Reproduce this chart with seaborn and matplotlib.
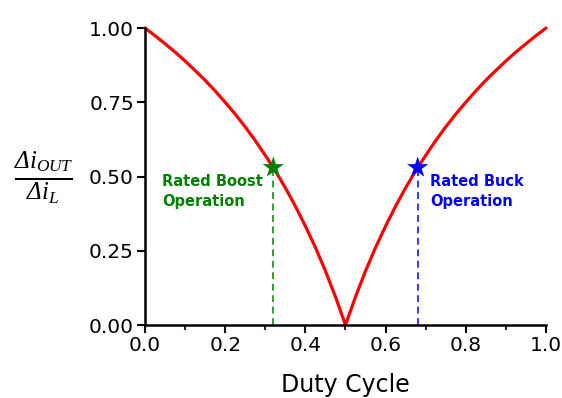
import matplotlib
matplotlib.use("Agg")
import matplotlib.pyplot as plt
import seaborn as sns
import pandas as pd
from matplotlib.ticker import MultipleLocator

# Data
duty = [0.0, 0.025, 0.05, 0.075, 0.1, 0.125, 0.15, 0.175, 0.2, 0.225, 0.25, 0.275,
        0.3, 0.325, 0.35, 0.375, 0.4, 0.425, 0.45, 0.475, 0.5,
        0.525, 0.55, 0.575, 0.6, 0.625, 0.65, 0.675, 0.7, 0.725, 0.75, 0.775,
        0.8, 0.825, 0.85, 0.875, 0.9, 0.925, 0.95, 0.975, 1.0]
ripple = [1.0, 0.974, 0.947, 0.919, 0.889, 0.857, 0.824, 0.788, 0.75, 0.710, 0.667, 0.621,
          0.571, 0.519, 0.462, 0.4, 0.333, 0.261, 0.182, 0.095, 0.0,
          0.095, 0.182, 0.261, 0.333, 0.4, 0.462, 0.519, 0.571, 0.621, 0.667, 0.710,
          0.75, 0.788, 0.824, 0.857, 0.889, 0.919, 0.947, 0.974, 1.0]
rated_duty = [0.32, 0.68]
rated_ripple = [0.53, 0.53]
rated_labels = ["Rated Boost\nOperation", "Rated Buck\nOperation"]
rated_colors = ["#008000", "#0000FF"]
x_ticks = [0.0, 0.2, 0.4, 0.6, 0.8, 1.0]
y_ticks = [0.0, 0.25, 0.5, 0.75, 1.0]

sns.set_style("ticks")
plt.rcParams["font.family"] = ["DejaVu Sans"]
plt.rcParams["mathtext.fontset"] = "custom"
plt.rcParams["mathtext.it"] = "Liberation Serif:italic"
plt.rcParams["mathtext.rm"] = "Liberation Serif:italic"

fig = plt.figure(figsize=(5.62, 3.98), dpi=100)
ax = fig.add_axes([0.258, 0.1834, 0.7135, 0.7462])

df = pd.DataFrame({"duty": duty, "ripple": ripple})
sns.lineplot(data=df, x="duty", y="ripple", color="#FF0000", linewidth=2.3, ax=ax)

for d, r, lab, c, dx in zip(rated_duty, rated_ripple, rated_labels, rated_colors, [-0.277, 0.031]):
    ax.plot([d, d], [0, r], linestyle=(0, (4.5, 3)), color=c, linewidth=1.1, zorder=2)
    ax.text(d + dx, r - 0.02, lab, color=c, fontsize=10.5, fontweight="bold",
            va="top", ha="left", linespacing=1.45)

sns.scatterplot(x=rated_duty, y=rated_ripple, hue=rated_labels, palette=rated_colors,
                marker="*", s=260, edgecolor="none", legend=False, ax=ax, zorder=5)

ax.set_xlim(0, 1)
ax.set_ylim(0, 1)
ax.set_xticks(x_ticks)
ax.set_xticklabels([f"{v:.1f}" for v in x_ticks])
ax.set_yticks(y_ticks)
ax.set_yticklabels([f"{v:.2f}" for v in y_ticks])
ax.xaxis.set_minor_locator(MultipleLocator(0.1))
ax.tick_params(axis="both", which="major", labelsize=14.5, length=6, width=1.5,
               direction="out", colors="black", labelcolor="black", pad=2)
ax.tick_params(axis="x", which="minor", length=3.5, width=1.5, direction="out")
for s in ["left", "bottom"]:
    ax.spines[s].set_linewidth(1.8)
    ax.spines[s].set_color("black")
sns.despine(ax=ax)
ax.set_xlabel("Duty Cycle", fontsize=17, labelpad=13, color="black")
ax.set_ylabel("")
for line in ax.lines:
    line.set_clip_on(False)

fig.text(0.078, 0.553, r"$\frac{\Delta i_{OUT}}{\Delta i_{L}}$",
         fontsize=25.5, ha="center", va="center", color="black")

fig.savefig("out.png", dpi=100)
